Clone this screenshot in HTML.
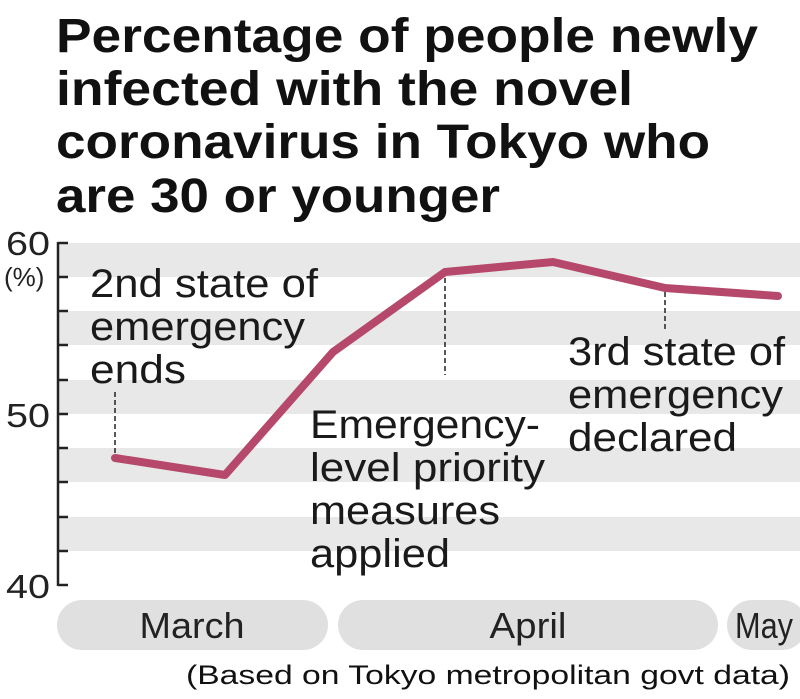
<!DOCTYPE html>
<html><head><meta charset="utf-8"><style>
body{margin:0;background:#fff;}
svg{display:block;font-family:"Liberation Sans",sans-serif;}
</style></head><body>
<svg width="800" height="699" viewBox="0 0 800 699">
<g font-weight="bold" font-size="48" fill="#111">
<text x="56" y="52" textLength="702" lengthAdjust="spacingAndGlyphs">Percentage of people newly</text>
<text x="56" y="105" textLength="577" lengthAdjust="spacingAndGlyphs">infected with the novel</text>
<text x="56" y="158" textLength="654" lengthAdjust="spacingAndGlyphs">coronavirus in Tokyo who</text>
<text x="56" y="212" textLength="444" lengthAdjust="spacingAndGlyphs">are 30 or younger</text>
</g>
<g fill="#e8e8e8">
<rect x="58" y="243" width="742" height="34"/>
<rect x="58" y="311" width="742" height="34"/>
<rect x="58" y="380" width="742" height="34"/>
<rect x="58" y="448" width="742" height="34"/>
<rect x="58" y="517" width="742" height="34"/>
</g>
<g stroke="#222" stroke-width="2.5" fill="none">
<path d="M58,242V586"/>
<path d="M58,243H68M58,277H68M58,311H68M58,345H68M58,380H68M58,414H68M58,448H68M58,482H68M58,517H68M58,551H68M58,585H68"/>
</g>
<g font-size="33" fill="#222">
<text x="6" y="255" textLength="44" lengthAdjust="spacingAndGlyphs">60</text>
<text x="4" y="286" font-size="26">(%)</text>
<text x="6" y="427" textLength="44" lengthAdjust="spacingAndGlyphs">50</text>
<text x="6" y="598" textLength="44" lengthAdjust="spacingAndGlyphs">40</text>
</g>
<g stroke="#222" stroke-width="1.5" stroke-dasharray="5,3">
<path d="M115,392V455"/>
<path d="M445,278V375"/>
<path d="M665,292V330"/>
</g>
<polyline points="115,458 225,475 333,352 445,272 553,262 665,288 778,296" fill="none" stroke="#b5486b" stroke-width="8" stroke-linejoin="round" stroke-linecap="round"/>
<g font-size="40" fill="#1a1a1a">
<text x="90" y="297" textLength="228" lengthAdjust="spacingAndGlyphs">2nd state of</text>
<text x="90" y="340" textLength="215" lengthAdjust="spacingAndGlyphs">emergency</text>
<text x="90" y="383" textLength="96" lengthAdjust="spacingAndGlyphs">ends</text>
<text x="310" y="438" textLength="230" lengthAdjust="spacingAndGlyphs">Emergency-</text>
<text x="310" y="481" textLength="235" lengthAdjust="spacingAndGlyphs">level priority</text>
<text x="310" y="524" textLength="190" lengthAdjust="spacingAndGlyphs">measures</text>
<text x="310" y="567" textLength="140" lengthAdjust="spacingAndGlyphs">applied</text>
<text x="568" y="365" textLength="217" lengthAdjust="spacingAndGlyphs">3rd state of</text>
<text x="568" y="408" textLength="215" lengthAdjust="spacingAndGlyphs">emergency</text>
<text x="568" y="451" textLength="169" lengthAdjust="spacingAndGlyphs">declared</text>
</g>
<g fill="#e0e0e0">
<rect x="57" y="600" width="271" height="50" rx="25"/>
<rect x="338" y="600" width="380" height="50" rx="25"/>
<rect x="727" y="600" width="80" height="50" rx="25"/>
</g>
<g font-size="36" fill="#222" text-anchor="middle">
<text x="192" y="638" textLength="105" lengthAdjust="spacingAndGlyphs">March</text>
<text x="528" y="638" textLength="77" lengthAdjust="spacingAndGlyphs">April</text>
<text x="764" y="638" textLength="58" lengthAdjust="spacingAndGlyphs">May</text>
</g>
<text x="790" y="684" font-size="27" fill="#111" text-anchor="end" textLength="604" lengthAdjust="spacingAndGlyphs">(Based on Tokyo metropolitan govt data)</text>
</svg>
</body></html>
